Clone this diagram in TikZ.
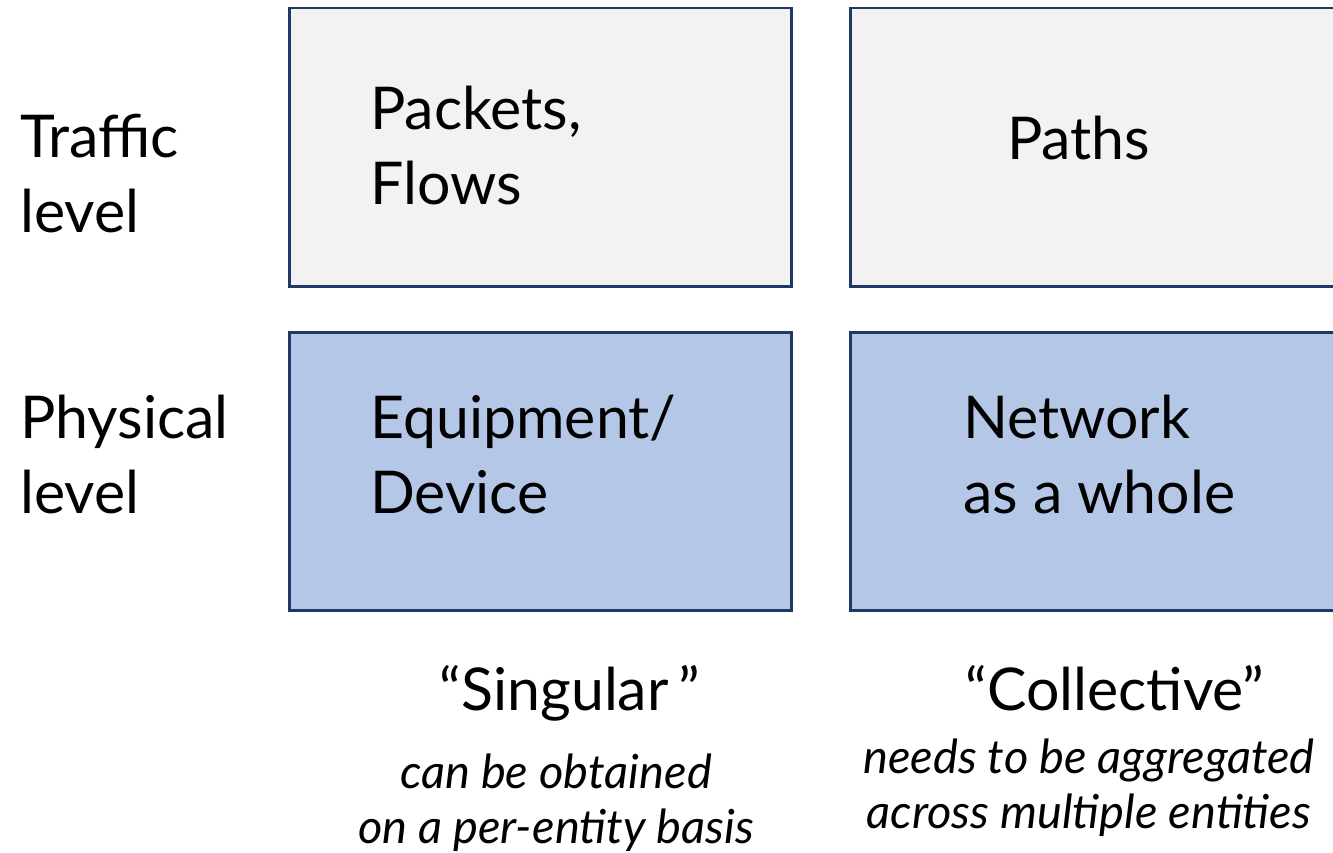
\documentclass[tikz,border=0pt]{standalone}
\usepackage{fontspec}
\setmainfont{Lato}
\usetikzlibrary{positioning}
\definecolor{framenavy}{RGB}{32,56,100}
\definecolor{cellgrey}{RGB}{242,242,242}
\definecolor{cellblue}{RGB}{180,199,231}
\tikzset{
  cellbox/.style={draw=framenavy, line width=2.5pt, minimum width=502pt, minimum height=278pt, anchor=north west, inner sep=0pt},
  bigtxt/.style={font=\fontsize{59}{75}\selectfont, align=left, inner sep=0pt, anchor=base west},
  smalltxt/.style={font=\fontsize{47}{55}\selectfont\itshape, align=center, inner sep=0pt, anchor=base}
}
\begin{document}
\begin{tikzpicture}[x=1pt, y=-1pt]
  \clip (0,0) rectangle (1333,853);
  \fill[white] (0,0) rectangle (1333,853);

  % grid of cells
  \node[cellbox, fill=cellgrey] (pkt) at (288,7) {};
  \node[cellbox, fill=cellgrey] (pth) at (849,7) {};
  \node[cellbox, fill=cellblue] (dev) at (288,331) {};
  \node[cellbox, fill=cellblue] (net) at (849,331) {};

  % row labels (base = last line)
  \node[bigtxt] (traffic) at (20,233) {Traffic\\level};
  \node[bigtxt] (physical) at (20,513) {Physical\\level};

  % cell texts
  \node[bigtxt] (pkttxt) at (370,205) {Packets,\\Flows};
  \node[bigtxt] (pthtxt) at (1007,160) {Paths};
  \node[bigtxt] (devtxt) at (370,513) {Equipment/\\Device};
  \node[bigtxt] (nettxt) at (963,513) {Network\\as a whole};

  % column captions
  \node[font=\fontsize{59}{75}\selectfont, inner sep=0pt, anchor=base] (sing) at (570,710) {“Singular\,”};
  \node[font=\fontsize{59}{75}\selectfont, inner sep=0pt, anchor=base] (coll) at (1115,710) {“Collective”};
  \node[smalltxt] (singnote) at (556,843) {can be obtained\\on a per-entity basis};
  \node[smalltxt] (collnote) at (1089,828) {needs to be aggregated\\across multiple entities};
\end{tikzpicture}
\end{document}
